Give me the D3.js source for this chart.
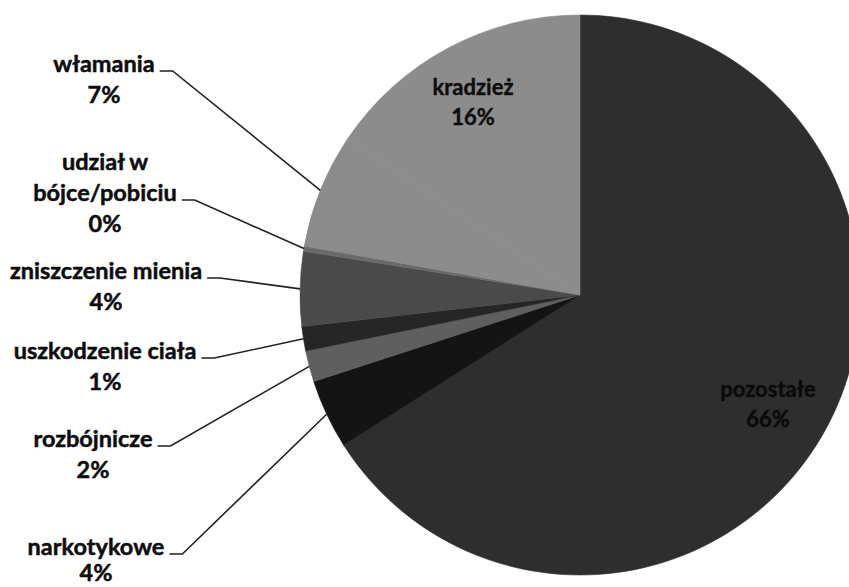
<!DOCTYPE html>
<html><head><meta charset="utf-8">
<script src="https://cdn.jsdelivr.net/npm/d3@7"></script>
<style>
html,body{margin:0;padding:0;background:#fff;}
svg{display:block;}
text{font-family:Lato,"Open Sans",sans-serif;font-weight:700;}
</style></head>
<body>
<svg id="chart" width="849" height="587"></svg>
<script>
// Data (clockwise from 12 o'clock)
const categories = ["pozostałe","narkotykowe","rozbójnicze","uszkodzenie ciała","zniszczenie mienia","udział w bójce/pobiciu","włamania","kradzież"];
const values = [66.0, 4.0, 1.8, 1.4, 4.3, 0.3, 6.6, 15.6];
const labelLines = [["pozostałe"],["narkotykowe"],["rozbójnicze"],["uszkodzenie ciała"],["zniszczenie mienia"],["udział w","bójce/pobiciu"],["włamania"],["kradzież"]];
const colors = ["#2e2e2e","#141414","#5f5f5f","#262626","#4a4a4a","#6a6a6a","#8c8c8c","#8c8c8c"];

// Layout
const W = 849, H = 587;
const cx = 580, cy = 295, R = 280;
const inside = {0: [768, 397], 7: [473, 95]};
// outside labels: center x, first baseline
const outside = {6:[104,72], 5:[105,170], 4:[106,279], 3:[105,359], 2:[93,447], 1:[96,555]};
const lineH = 31;
const FS = 23.5;

const svg = d3.select("#chart");
const g = svg.append("g").attr("transform", `translate(${cx},${cy})`);
const pie = d3.pie().sort(null).value(d => d)(values);
const arc = d3.arc().innerRadius(0).outerRadius(R);
const fmt = v => Math.round(v) + "%";

g.selectAll("path.slice").data(pie).join("path")
  .attr("class","slice")
  .attr("d", arc)
  .attr("fill", (d,i) => colors[i])
  .attr("stroke", (d,i) => colors[i]).attr("stroke-width",0.6);

// inside labels
Object.entries(inside).forEach(([k,[x,y]]) => {
  const i = +k;
  const t = svg.append("text").attr("text-anchor","middle").attr("font-size",22)
    .attr("fill", i === 0 ? "#0a0a0a" : "#0d0d0d")
    .attr("stroke", i === 0 ? "#0a0a0a" : "#0d0d0d").attr("stroke-width",0.4);
  t.append("tspan").attr("x",x).attr("y",y).text(labelLines[i][0]);
  t.append("tspan").attr("x",x).attr("y",y+30).text(fmt(values[i]));
});

// outside labels with leader lines
Object.entries(outside).forEach(([k,[x,y]]) => {
  const i = +k;
  const lines = labelLines[i];
  const t = svg.append("text").attr("text-anchor","middle").attr("font-size",FS)
    .attr("fill","#0d0d0d").attr("stroke","#0d0d0d").attr("stroke-width",0.5);
  const tsp = [];
  lines.forEach((ln,j) => {
    tsp.push(t.append("tspan").attr("x",x).attr("y",y + j*lineH).text(ln));
  });
  t.append("tspan").attr("x",x).attr("y",Math.min(y + lines.length*lineH, 581)).text(fmt(values[i]));
  const last = tsp[tsp.length-1].node();
  const w = last.getComputedTextLength();
  const x0 = x + w/2 + 5, ly = y + (lines.length-1)*lineH - 1;
  const a = (pie[i].startAngle + pie[i].endAngle)/2;
  const px = cx + R*Math.sin(a), py = cy - R*Math.cos(a);
  svg.append("path")
    .attr("d", `M${x0},${ly}L${x0+13},${ly}L${px},${py}`)
    .attr("fill","none").attr("stroke","#222").attr("stroke-width",1.6);
});
</script>
</body></html>
